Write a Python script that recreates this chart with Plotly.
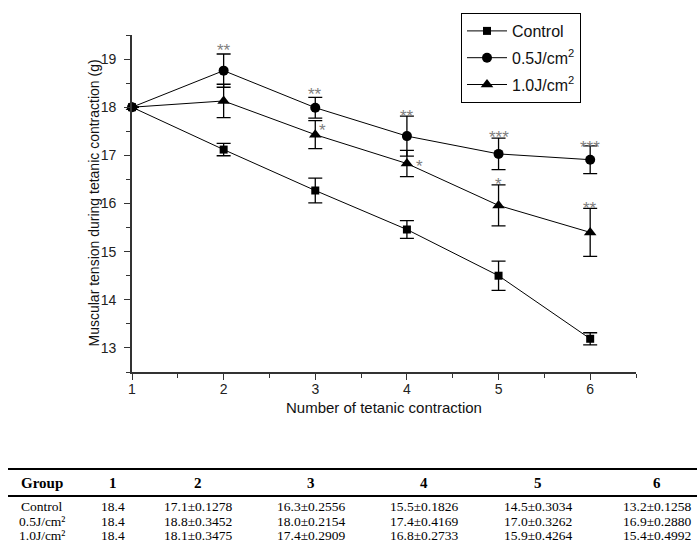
import plotly.graph_objects as go

# ---------------- data ----------------
contractions = [1, 2, 3, 4, 5, 6]
series_names = ["Control", "0.5J/cm<sup>2</sup>", "1.0J/cm<sup>2</sup>"]
control_mean = [18.0, 17.12, 16.27, 15.46, 14.50, 13.19]
low_mean = [18.0, 18.76, 17.99, 17.40, 17.03, 16.91]
high_mean = [18.0, 18.13, 17.43, 16.83, 15.96, 15.40]
control_sd = [None, 0.1278, 0.2556, 0.1826, 0.3034, 0.1258]
low_sd = [None, 0.3452, 0.2154, 0.4169, 0.3262, 0.2880]
high_sd = [None, 0.3475, 0.2909, 0.2733, 0.4264, 0.4992]
symbols = ["square", "circle", "triangle-up"]
marker_sizes = [8, 10, 11]

# significance marks: (x, y, text)
sig_x = [2, 3, 3.08, 4, 4.14, 5, 5, 6, 6]
sig_y = [19.28, 18.37, 17.61, 17.91, 16.87, 17.47, 16.50, 17.27, 15.99]
sig_text = ["**", "**", "*", "**", "*", "***", "*", "***", "**"]

# table
table_header = ["Group", "1", "2", "3", "4", "5", "6"]
table_groups = ["Control", "0.5J/cm²", "1.0J/cm²"]
table_rows = [
    ["18.4", "17.1±0.1278", "16.3±0.2556", "15.5±0.1826", "14.5±0.3034", "13.2±0.1258"],
    ["18.4", "18.8±0.3452", "18.0±0.2154", "17.4±0.4169", "17.0±0.3262", "16.9±0.2880"],
    ["18.4", "18.1±0.3475", "17.4±0.2909", "16.8±0.2733", "15.9±0.4264", "15.4±0.4992"],
]

# ---------------- layout geometry (pixels) ----------------
W, H = 697, 543
L, R, T, B = 132, 636, 35, 372   # plot area edges


def px(xp):
    return (xp - L) / (R - L)


def py(yp):
    return (B - yp) / (B - T)


fig = go.Figure()
means = [control_mean, low_mean, high_mean]
sds = [control_sd, low_sd, high_sd]
for i, (name, m, sd, sym, ms) in enumerate(zip(series_names, means, sds, symbols, marker_sizes)):
    fig.add_trace(go.Scatter(
        x=contractions, y=m, name=name, mode="lines+markers", legendgroup="g%d" % i,
        line=dict(color="black", width=1),
        marker=dict(symbol=sym, size=ms, color="black"),
        error_y=dict(type="data", array=sd, visible=True, color="black",
                     thickness=1.3, width=7),
        cliponaxis=False,
    ))

annotations = []
for x, y, t in zip(sig_x, sig_y, sig_text):
    annotations.append(dict(x=x, y=y, xref="x", yref="y", text=t, showarrow=False,
                            xanchor="center", yanchor="middle",
                            font=dict(family="Liberation Sans", size=17, color="#808080"),
                            yshift=-5))

# axis titles
annotations.append(dict(x=px(93), y=0.5, xref="paper", yref="paper",
                        xanchor="center", yanchor="middle",
                        text="Muscular tension during tetanic contraction (g)",
                        textangle=-90, showarrow=False,
                        font=dict(family="Liberation Sans", size=14, color="#111")))
annotations.append(dict(x=0.5, y=py(407), xref="paper", yref="paper",
                        xanchor="center", yanchor="middle",
                        text="Number of tetanic contraction", showarrow=False,
                        font=dict(family="Liberation Sans", size=15, color="#111")))

# table text
col_x = [42, 113, 198, 311, 424, 538, 657]
header_y = 483
row_y = [506, 521, 535]
for cx, h in zip(col_x, table_header):
    annotations.append(dict(x=px(cx), y=py(header_y), xref="paper", yref="paper",
                            xanchor="center", yanchor="middle",
                            text="<b>%s</b>" % h, showarrow=False,
                            font=dict(family="Liberation Serif", size=15, color="black")))
for ry, g, row in zip(row_y, table_groups, table_rows):
    cells = [g] + row
    for cx, c in zip(col_x, cells):
        annotations.append(dict(x=px(cx), y=py(ry), xref="paper", yref="paper",
                                xanchor="center", yanchor="middle",
                                text=c, showarrow=False,
                                font=dict(family="Liberation Serif", size=13.5, color="black")))

shapes = [
    dict(type="line", xref="paper", yref="paper", x0=px(8), x1=px(697),
         y0=py(469), y1=py(469), line=dict(color="black", width=2)),
    dict(type="line", xref="paper", yref="paper", x0=px(8), x1=px(697),
         y0=py(496), y1=py(496), line=dict(color="black", width=2)),
]

axis_common = dict(showline=True, linecolor="#333", linewidth=1.6, ticks="outside",
                   ticklen=6, tickwidth=1.3, tickcolor="#333", showgrid=False,
                   zeroline=False, tickfont=dict(family="Liberation Sans", size=14, color="#222"))

fig.update_layout(
    width=W, height=H, autosize=False,
    margin=dict(l=L, r=W - R, t=T, b=H - B, autoexpand=False),
    paper_bgcolor="white", plot_bgcolor="white",
    xaxis=dict(range=[1, 6.5], tickvals=contractions, **axis_common,
               ticklabelstandoff=-3,
               minor=dict(ticks="outside", ticklen=4, dtick=0.5, tick0=1,
                          tickcolor="#333", tickwidth=1.3)),
    yaxis=dict(range=[12.5, 19.5], tickvals=[13, 14, 15, 16, 17, 18, 19], **axis_common,
               ticklabelstandoff=5,
               minor=dict(ticks="outside", ticklen=4, dtick=0.5, tick0=12.5,
                          tickcolor="#333", tickwidth=1.3)),
    legend=dict(x=px(461), y=py(13), xanchor="left", yanchor="top",
                bordercolor="black", borderwidth=1, bgcolor="white",
                font=dict(family="Liberation Sans", size=16, color="#111"),
                itemwidth=40, tracegroupgap=3),
    annotations=annotations, shapes=shapes, showlegend=True,
)

fig.write_html("out.html", config={"displayModeBar": False},
               post_script="document.body.style.margin='0';document.body.style.padding='0';")
